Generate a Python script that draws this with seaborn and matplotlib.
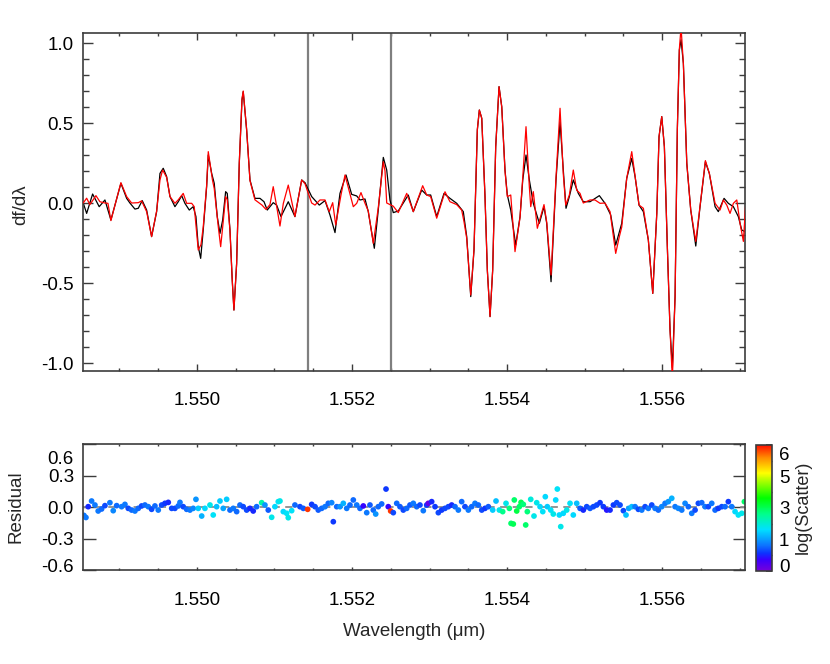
import numpy as np
import pandas as pd
import matplotlib
matplotlib.use("Agg")
import matplotlib.pyplot as plt
import seaborn as sns
from matplotlib.colors import LinearSegmentedColormap, Normalize
from matplotlib.cm import ScalarMappable
from matplotlib.ticker import MultipleLocator, FixedLocator
import matplotlib.transforms as mtransforms

# ---------------- data ----------------
model_wave = [1.548533, 1.548577, 1.548654, 1.548739, 1.548813, 1.548890, 1.549019, 1.549093, 1.549135, 1.549200,
              1.549243, 1.549294, 1.549351, 1.549415, 1.549480, 1.549523, 1.549565, 1.549609, 1.549652, 1.549716,
              1.549759, 1.549803, 1.549845, 1.549901, 1.549952, 1.549987, 1.550017, 1.550048, 1.550081, 1.550125,
              1.550146, 1.550190, 1.550223, 1.550262, 1.550297, 1.550332, 1.550370, 1.550391, 1.550426, 1.550455,
              1.550477, 1.550512, 1.550546, 1.550581, 1.550597, 1.550641, 1.550684, 1.550748, 1.550813, 1.550865,
              1.550907, 1.550984, 1.551028, 1.551084, 1.551178, 1.551264, 1.551351, 1.551394, 1.551480, 1.551578,
              1.551652, 1.551716, 1.551781, 1.551845, 1.551923, 1.551996, 1.552061, 1.552103, 1.552168, 1.552210,
              1.552288, 1.552339, 1.552404, 1.552448, 1.552490, 1.552533, 1.552597, 1.552726, 1.552791, 1.552899,
              1.552964, 1.553015, 1.553093, 1.553187, 1.553264, 1.553351, 1.553436, 1.553480, 1.553532, 1.553574,
              1.553617, 1.553643, 1.553674, 1.553716, 1.553746, 1.553781, 1.553815, 1.553854, 1.553897, 1.553932,
              1.553974, 1.554004, 1.554048, 1.554112, 1.554168, 1.554203, 1.554245, 1.554288, 1.554339, 1.554417,
              1.554477, 1.554512, 1.554568, 1.554632, 1.554684, 1.554726, 1.554761, 1.554804, 1.554855, 1.554920,
              1.554984, 1.555071, 1.555191, 1.555264, 1.555338, 1.555402, 1.555480, 1.555544, 1.555609, 1.555652,
              1.555703, 1.555759, 1.555823, 1.555880, 1.555932, 1.555961, 1.555996, 1.556030, 1.556068, 1.556103,
              1.556133, 1.556168, 1.556197, 1.556223, 1.556245, 1.556275, 1.556319, 1.556370, 1.556435, 1.556490,
              1.556559, 1.556610, 1.556684, 1.556726, 1.556800, 1.556855, 1.556920, 1.556984, 1.557028, 1.557071]
model_df = [0.00, -0.065, 0.056, -0.023, 0.019, -0.106, 0.123, 0.029, 0.0, -0.038,
            -0.033, 0.015, -0.044, -0.21, -0.054, 0.185, 0.217, 0.165, 0.04, -0.023,
            0.008, 0.046, -0.002, -0.044, -0.023, -0.085, -0.273, -0.346, -0.169, 0.102,
            0.30, 0.185, 0.123, -0.085, -0.19, -0.106, 0.071, 0.06, -0.169, -0.48,
            -0.669, -0.377, 0.248, 0.644, 0.696, 0.456, 0.144, 0.029, 0.029, 0.008,
            -0.044, 0.002, -0.013, -0.085, 0.008, -0.085, 0.144, 0.127, 0.04, -0.013,
            0.015, -0.075, -0.185, 0.06, 0.175, 0.054, 0.044, 0.019, 0.025, -0.054,
            -0.283, -0.044, 0.285, 0.206, 0.019, -0.06, -0.05, 0.05, -0.054, 0.081,
            0.05, 0.05, -0.085, 0.06, 0.029, -0.002, -0.054, -0.21, -0.585, -0.294,
            0.456, 0.581, 0.529, 0.04, -0.419, -0.71, -0.419, 0.352, 0.727, 0.602,
            0.206, 0.05, -0.044, -0.263, -0.085, 0.144, 0.30, 0.144, -0.002, -0.127,
            -0.023, -0.127, -0.492, 0.144, 0.508, 0.206, -0.033, 0.04, 0.144, 0.06,
            0.008, 0.008, 0.046, -0.002, -0.075, -0.263, -0.127, 0.154, 0.279, 0.165,
            -0.013, -0.054, -0.231, -0.565, -0.065, 0.415, 0.54, 0.352, -0.273, -0.794,
            -1.03, -0.585, 0.456, 0.956, 1.02, 0.873, 0.248, -0.044, -0.269, -0.023,
            0.258, 0.185, -0.023, -0.054, 0.029, -0.002, -0.023, -0.085, -0.169, -0.179]

obs_wave = [1.548533, 1.548577, 1.548619, 1.548697, 1.548748, 1.548813, 1.548852, 1.548890, 1.549019, 1.549093,
            1.549157, 1.549243, 1.549286, 1.549351, 1.549415, 1.549480, 1.549523, 1.549557, 1.549609, 1.549652,
            1.549716, 1.549759, 1.549823, 1.549867, 1.549932, 1.549965, 1.550017, 1.550052, 1.550081, 1.550125,
            1.550146, 1.550200, 1.550223, 1.550275, 1.550306, 1.550332, 1.550370, 1.550391, 1.550426, 1.550455,
            1.550477, 1.550512, 1.550546, 1.550581, 1.550597, 1.550641, 1.550684, 1.550748, 1.550839, 1.550890,
            1.550942, 1.550984, 1.551028, 1.551071, 1.551114, 1.551178, 1.551264, 1.551351, 1.551394, 1.551480,
            1.551523, 1.551587, 1.551652, 1.551707, 1.551751, 1.551790, 1.551858, 1.551910, 1.552017, 1.552061,
            1.552116, 1.552168, 1.552210, 1.552275, 1.552339, 1.552404, 1.552426, 1.552448, 1.552490, 1.552533,
            1.552597, 1.552706, 1.552791, 1.552912, 1.552964, 1.553015, 1.553093, 1.553200, 1.553264, 1.553351,
            1.553415, 1.553445, 1.553480, 1.553532, 1.553574, 1.553617, 1.553643, 1.553674, 1.553716, 1.553746,
            1.553781, 1.553815, 1.553854, 1.553897, 1.553932, 1.553974, 1.554004, 1.554048, 1.554103, 1.554168,
            1.554203, 1.554245, 1.554288, 1.554306, 1.554339, 1.554391, 1.554477, 1.554512, 1.554568, 1.554632,
            1.554684, 1.554726, 1.554757, 1.554804, 1.554855, 1.554899, 1.554942, 1.554984, 1.555071, 1.555135,
            1.555200, 1.555264, 1.555329, 1.555402, 1.555449, 1.555480, 1.555544, 1.555609, 1.555652, 1.555703,
            1.555759, 1.555823, 1.555880, 1.555932, 1.555961, 1.555996, 1.556030, 1.556068, 1.556103, 1.556133,
            1.556168, 1.556197, 1.556223, 1.556245, 1.556275, 1.556319, 1.556370, 1.556435, 1.556490, 1.556559,
            1.556610, 1.556684, 1.556748, 1.556791, 1.556835, 1.556877, 1.556920, 1.556964, 1.557006, 1.557049,
            1.557093]
obs_df = [0.0, 0.03, -0.01, 0.046, 0.008, 0.0, -0.002, -0.11, 0.127, 0.04,
          0.0, 0.002, 0.013, -0.054, -0.21, -0.05, 0.144, 0.206, 0.16, 0.04,
          -0.002, 0.02, 0.06, -0.002, -0.002, -0.023, -0.294, -0.26, -0.15, 0.11,
          0.321, 0.144, 0.09, -0.148, -0.273, -0.15, 0.04, 0.02, -0.17, -0.48,
          -0.669, -0.38, 0.25, 0.65, 0.70, 0.46, 0.14, 0.02, -0.013, -0.04,
          -0.01, 0.102, -0.02, -0.144, -0.003, 0.112, -0.085, 0.144, 0.12, 0.0,
          -0.013, 0.019, 0.019, -0.054, 0.002, -0.137, 0.05, 0.175, -0.023, -0.002,
          0.065, -0.002, -0.05, -0.252, -0.03, 0.258, 0.2, 0.0, -0.01, -0.02,
          -0.06, 0.06, -0.054, 0.108, 0.05, 0.04, -0.095, 0.07, 0.008, -0.01,
          -0.044, -0.117, -0.22, -0.575, -0.29, 0.46, 0.581, 0.53, 0.04, -0.42,
          -0.71, -0.42, 0.35, 0.727, 0.6, 0.2, 0.04, 0.05, -0.304, -0.09,
          0.16, 0.477, 0.1, -0.023, 0.071, -0.158, -0.01, -0.12, -0.45, 0.16,
          0.592, 0.18, -0.013, 0.05, 0.206, 0.08, 0.06, 0.0, 0.019, 0.019,
          -0.002, 0.0, -0.054, -0.315, -0.21, -0.15, 0.154, 0.321, 0.17, -0.013,
          -0.033, -0.231, -0.565, -0.065, 0.415, 0.54, 0.35, -0.27, -0.794, -1.1,
          -0.585, 0.46, 0.96, 1.1, 0.87, 0.25, -0.044, -0.24, -0.02, 0.265,
          0.185, -0.002, -0.044, 0.019, -0.013, -0.065, -0.002, 0.019, -0.127, -0.24,
          0.1]

res_wave = [1.548542, 1.548568, 1.548597, 1.548641, 1.548684, 1.548726, 1.548770, 1.548813, 1.548877, 1.548920,
            1.548964, 1.549028, 1.549071, 1.549114, 1.549157, 1.549200, 1.549243, 1.549286, 1.549329, 1.549372,
            1.549415, 1.549458, 1.549501, 1.549545, 1.549587, 1.549630, 1.549674, 1.549716, 1.549759, 1.549781,
            1.549823, 1.549867, 1.549910, 1.549952, 1.549987, 1.550017, 1.550061, 1.550103, 1.550168, 1.550210,
            1.550254, 1.550297, 1.550339, 1.550383, 1.550426, 1.550468, 1.550512, 1.550555, 1.550597, 1.550641,
            1.550684, 1.550726, 1.550770, 1.550835, 1.550877, 1.550920, 1.550964, 1.551006, 1.551049, 1.551071,
            1.551114, 1.551157, 1.551178, 1.551222, 1.551264, 1.551329, 1.551372, 1.551428, 1.551480, 1.551523,
            1.551565, 1.551609, 1.551652, 1.551694, 1.551738, 1.551759, 1.551803, 1.551845, 1.551888, 1.551932,
            1.551974, 1.552017, 1.552061, 1.552103, 1.552146, 1.552190, 1.552232, 1.552275, 1.552306, 1.552339,
            1.552383, 1.552439, 1.552468, 1.552499, 1.552533, 1.552577, 1.552619, 1.552662, 1.552706, 1.552748,
            1.552791, 1.552835, 1.552877, 1.552920, 1.552964, 1.552984, 1.553028, 1.553071, 1.553114, 1.553157,
            1.553200, 1.553243, 1.553286, 1.553329, 1.553372, 1.553415, 1.553458, 1.553501, 1.553544, 1.553587,
            1.553630, 1.553674, 1.553716, 1.553759, 1.553815, 1.553858, 1.553901, 1.553944, 1.553987, 1.554030,
            1.554052, 1.554081, 1.554094, 1.554125, 1.554159, 1.554181, 1.554210, 1.554241, 1.554262, 1.554306,
            1.554348, 1.554383, 1.554426, 1.554461, 1.554494, 1.554520, 1.554564, 1.554597, 1.554628, 1.554649,
            1.554675, 1.554693, 1.554726, 1.554770, 1.554813, 1.554855, 1.554899, 1.554942, 1.554984, 1.555028,
            1.555071, 1.555114, 1.555157, 1.555200, 1.555243, 1.555286, 1.555329, 1.555372, 1.555415, 1.555458,
            1.555501, 1.555535, 1.555570, 1.555609, 1.555652, 1.555694, 1.555738, 1.555781, 1.555823, 1.555867,
            1.555910, 1.555952, 1.555996, 1.556039, 1.556081, 1.556125, 1.556168, 1.556210, 1.556254, 1.556297,
            1.556339, 1.556383, 1.556426, 1.556468, 1.556512, 1.556555, 1.556597, 1.556641, 1.556684, 1.556726,
            1.556770, 1.556813, 1.556855, 1.556899, 1.556942, 1.556984, 1.557028, 1.557062]
res_val = [-0.08, -0.10, 0.003, 0.057, 0.019, -0.038, -0.019, 0.013, 0.041, -0.035,
           0.013, 0.003, 0.025, -0.013, -0.029, -0.038, -0.013, 0.01, 0.019, 0.003,
           -0.022, 0.01, -0.029, 0.019, 0.035, 0.044, -0.013, -0.013, 0.01, 0.044,
           0.003, -0.022, -0.029, -0.013, 0.073, -0.013, -0.086, -0.013, 0.019, -0.076,
           0.003, 0.057, -0.013, 0.073, -0.029, -0.013, -0.044, 0.019, 0.003, -0.029,
           -0.013, -0.038, 0.003, 0.041, 0.019, -0.029, -0.098, 0.003, 0.051, 0.057,
           -0.044, -0.06, -0.102, -0.035, 0.019, 0.003, -0.013, -0.022, 0.025, 0.003,
           -0.029, -0.013, 0.003, 0.035, 0.041, -0.14, 0.003, 0.003, 0.035, -0.013,
           0.019, 0.067, 0.019, -0.013, 0.01, -0.054, 0.019, -0.029, -0.067, 0.003,
           0.029, 0.171, 0.003, -0.038, -0.054, 0.035, 0.003, -0.029, -0.013, 0.019,
           0.035, 0.003, 0.019, -0.035, 0.019, 0.035, 0.051, 0.003, -0.054, -0.029,
           -0.013, 0.003, 0.019, 0.003, -0.029, 0.051, 0.003, -0.029, 0.003, 0.035,
           0.019, -0.029, -0.013, 0.003, -0.029, 0.057, -0.029, -0.044, 0.035, -0.013,
           -0.156, -0.162, 0.067, -0.038, 0.003, 0.044, 0.025, -0.171, -0.044, 0.073,
           -0.086, 0.041, 0.003, -0.044, 0.098, 0.003, -0.029, -0.067, 0.067, 0.171,
           -0.076, -0.187, -0.06, -0.029, 0.035, -0.076, 0.035, -0.013, -0.029, 0.003,
           -0.013, 0.003, 0.019, 0.041, 0.003, -0.029, -0.029, 0.019, 0.041, 0.019,
           -0.035, -0.076, -0.013, 0.003, 0.003, -0.022, -0.029, 0.003, -0.013, 0.019,
           -0.013, -0.029, 0.003, 0.035, 0.051, 0.083, 0.003, -0.013, -0.029, 0.035,
           0.003, -0.06, -0.029, 0.035, 0.041, 0.003, 0.003, 0.035, -0.029, -0.013,
           0.003, 0.003, 0.051, 0.003, -0.044, -0.076, -0.06, 0.051]
res_logscatter = [1.3, 1.3, 0.8, 1.3, 1.3, 1.3, 1.2, 1.0, 1.3, 1.4,
                  1.2, 1.3, 1.3, 1.0, 1.2, 1.3, 1.2, 1.0, 1.2, 1.3,
                  1.0, 1.2, 1.3, 1.0, 0.9, 0.8, 1.0, 1.0, 1.2, 1.3,
                  1.0, 1.2, 1.3, 1.4, 1.5, 1.9, 1.7, 2.0, 2.2, 2.1,
                  1.8, 1.9, 1.6, 1.9, 1.2, 1.3, 1.2, 1.2, 1.0, 1.0,
                  0.8, 0.8, 1.2, 2.6, 1.5, 1.1, 2.2, 2.0, 2.1, 2.2,
                  2.0, 2.1, 2.2, 2.1, 1.2, 1.0, 1.1, 6.0, 0.9, 1.0,
                  1.1, 1.2, 1.3, 1.2, 1.4, 0.9, 1.2, 1.5, 1.7, 1.3,
                  1.2, 1.2, 1.3, 1.2, 0.6, 1.3, 1.1, 1.2, 1.5, 1.2,
                  1.2, 0.9, 0.6, 6.0, 1.0, 1.2, 1.1, 1.0, 1.2, 1.1,
                  1.3, 1.2, 1.0, 1.3, 0.9, 0.2, 0.8, 0.9, 1.0, 0.9,
                  1.0, 1.0, 0.8, 1.2, 1.3, 1.2, 1.0, 1.3, 1.2, 1.3,
                  1.2, 1.0, 0.9, 1.1, 1.9, 1.8, 2.2, 2.8, 2.2, 2.9,
                  3.0, 3.1, 3.0, 3.2, 3.0, 3.1, 2.9, 3.0, 2.9, 2.3,
                  2.2, 2.2, 2.0, 2.1, 2.0, 1.9, 2.1, 2.2, 2.0, 2.1,
                  2.0, 2.2, 2.0, 2.2, 2.1, 2.0, 1.8, 1.1, 0.8, 1.0,
                  1.1, 1.0, 1.0, 0.9, 0.9, 0.7, 0.8, 0.9, 1.0, 1.0,
                  1.0, 1.8, 1.6, 1.8, 1.3, 1.0, 1.3, 1.0, 1.3, 1.0,
                  1.3, 1.2, 1.4, 1.3, 1.5, 1.7, 1.3, 1.4, 1.3, 1.4,
                  1.2, 1.3, 1.0, 1.0, 1.2, 1.3, 1.0, 1.3, 1.2, 0.9,
                  1.0, 1.2, 0.9, 1.3, 2.0, 2.1, 2.2, 3.0]

mask_lines = [1.55143, 1.55250]
x_ticks = [1.550, 1.552, 1.554, 1.556]
x_tick_labels = ["1.550", "1.552", "1.554", "1.556"]
top_y_ticks = [-1.0, -0.5, 0.0, 0.5, 1.0]
top_y_labels = ["-1.0", "-0.5", "0.0", "0.5", "1.0"]
res_y_ticks = [-0.6, -0.3, 0.0, 0.3, 0.6]
res_y_labels = ["-0.6", "-0.3", "0.0", "0.3", "0.6"]
cb_ticks = [0.0, 1.55, 3.1, 4.65, 6.2]
cb_labels = ["0", "1", "3", "5", "6"]

# ---------------- style ----------------
sns.set_theme(style="ticks")
plt.rcParams['font.family'] = ['Liberation Sans', 'DejaVu Sans']
plt.rcParams['axes.unicode_minus'] = False
plt.rcParams['font.size'] = 13
SP = '#3c3c3c'

fig = plt.figure(figsize=(8.3, 6.64), dpi=100)
W, H = 830.0, 664.0
ax1 = fig.add_axes([83 / W, 1 - 371 / H, 662 / W, 338 / H])
ax2 = fig.add_axes([83 / W, 1 - 570 / H, 662 / W, 126 / H])
cax = fig.add_axes([756 / W, 1 - 571 / H, 16 / W, 126 / H])

cmap = LinearSegmentedColormap.from_list('idl_rainbow', [
    (0.0, (0.47, 0.0, 0.85)), (0.09, (0.22, 0.0, 1.0)), (0.14, (0.05, 0.2, 1.0)),
    (0.2, (0.05, 0.45, 1.0)), (0.33, (0.0, 0.88, 1.0)), (0.45, (0.0, 1.0, 0.55)),
    (0.58, (0.0, 1.0, 0.0)), (0.78, (1.0, 1.0, 0.0)), (0.9, (1.0, 0.55, 0.0)),
    (1.0, (1.0, 0.05, 0.0))])
norm = Normalize(vmin=0.0, vmax=6.2)

# ---------------- top panel ----------------
for w in mask_lines:
    ax1.axvline(w, color='#7f7f7f', lw=1.6, zorder=1)
sns.lineplot(x=model_wave, y=model_df, color='black', lw=0.9, ax=ax1,
             sort=False, estimator=None, zorder=2)
sns.lineplot(x=obs_wave, y=obs_df, color='red', lw=0.9, ax=ax1,
             sort=False, estimator=None, zorder=3)
ax1.set_ylim(-1.05, 1.0625)

# ---------------- residual panel ----------------
ax2.axhline(0.0, color='#8c8c8c', lw=1.3, ls=(0, (4, 3)), zorder=1)
res_df = pd.DataFrame({'wave': res_wave, 'res': res_val, 'logsc': res_logscatter})
sns.scatterplot(data=res_df, x='wave', y='res', hue='logsc', palette=cmap, hue_norm=norm,
                s=17, linewidth=0, legend=False, ax=ax2, zorder=2)
ax2.set_ylim(-0.6, 0.6)

for ax in (ax1, ax2):
    ax.set_xlim(1.54853, 1.55707)
    ax.xaxis.set_major_locator(FixedLocator(x_ticks))
    ax.set_xticklabels(x_tick_labels)
    ax.xaxis.set_minor_locator(MultipleLocator(0.0005))
    ax.set_xlabel('')
    ax.set_ylabel('')
    for s in ax.spines.values():
        s.set_color(SP)
        s.set_linewidth(1.2)
    ax.tick_params(which='both', direction='in', top=True, right=True, colors=SP,
                   labelcolor='black', labelsize=13.5, width=1.0)

ax1.yaxis.set_major_locator(FixedLocator(top_y_ticks))
ax1.set_yticklabels(top_y_labels)
ax1.yaxis.set_minor_locator(MultipleLocator(0.1))
ax1.tick_params(axis='x', which='major', length=5, pad=15)
ax1.tick_params(axis='x', which='minor', length=2.5)
ax1.tick_params(axis='y', which='major', length=7.5, pad=6.5)
ax1.tick_params(axis='y', which='minor', length=4)

ax2.yaxis.set_major_locator(FixedLocator(res_y_ticks))
ax2.set_yticklabels(res_y_labels)
ax2.tick_params(axis='x', which='major', length=2.5, pad=15.5)
ax2.tick_params(axis='x', which='minor', length=1.3)
ax2.tick_params(axis='y', which='major', length=9, pad=6.5)
ax2.tick_params(axis='y', which='minor', length=0)

ax1.set_ylabel('df/d\u03bb', fontsize=13.5)
ax1.yaxis.set_label_coords((29 - 83) / 662, (371 - 205) / 338)
ax2.set_ylabel('Residual', fontsize=13.5)
ax2.yaxis.set_label_coords((24 - 83) / 662, 0.5)
ax2.set_xlabel('Wavelength (\u03bcm)', fontsize=13.5)
ax2.xaxis.set_label_coords(0.5, -0.42)

# shift the edge labels inward like the reference
yt = ax2.yaxis.get_major_ticks()
yt[-1].label1.set_transform(yt[-1].label1.get_transform() +
                            mtransforms.ScaledTranslation(0, -13 / 100, fig.dpi_scale_trans))
yt[0].label1.set_transform(yt[0].label1.get_transform() +
                           mtransforms.ScaledTranslation(0, 5 / 100, fig.dpi_scale_trans))

# ---------------- colorbar ----------------
sm = ScalarMappable(norm=norm, cmap=cmap)
cb = fig.colorbar(sm, cax=cax)
cb.set_ticks(cb_ticks)
cb.set_ticklabels(cb_labels)
cax.yaxis.set_minor_locator(MultipleLocator(6.2 / 8))
cax.tick_params(which='both', direction='in', right=True, left=False, colors=SP,
                labelcolor='black', labelsize=13.5, pad=5)
cax.tick_params(which='major', length=4)
cax.tick_params(which='minor', length=3)
cb.outline.set_edgecolor(SP)
cb.outline.set_linewidth(1.2)
ct = cax.yaxis.get_major_ticks()
ct[-1].label2.set_transform(ct[-1].label2.get_transform() +
                            mtransforms.ScaledTranslation(0, -9 / 100, fig.dpi_scale_trans))
ct[0].label2.set_transform(ct[0].label2.get_transform() +
                           mtransforms.ScaledTranslation(0, 6 / 100, fig.dpi_scale_trans))
fig.text(803 / W, 1 - 507 / H, 'log(Scatter)', rotation=90, ha='center', va='center', fontsize=13)

fig.savefig('out.png', dpi=100, facecolor='white')
